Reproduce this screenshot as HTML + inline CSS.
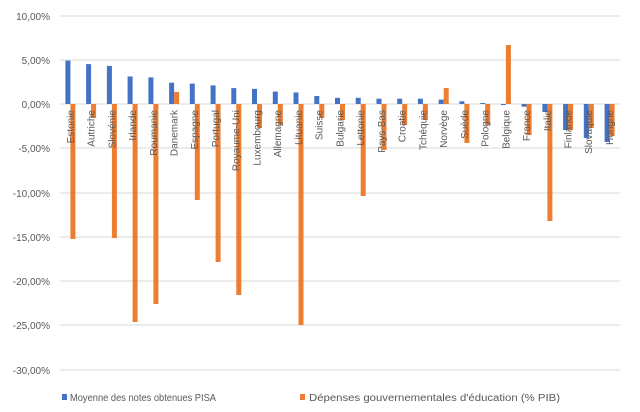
<!DOCTYPE html>
<html><head><meta charset="utf-8"><style>
body{margin:0;background:#fff;}
svg{display:block;font-family:"Liberation Sans",sans-serif;}
.y{font-size:10px;fill:#595959;text-anchor:end;}
.c{font-size:10px;fill:#595959;text-anchor:end;}
.l{font-size:10px;fill:#595959;}
</style></head><body>
<svg width="640" height="412" viewBox="0 0 640 412">
<g stroke="#d9d9d9" stroke-width="1">
<line x1="60" x2="620" y1="16" y2="16"/><line x1="60" x2="620" y1="60" y2="60"/><line x1="60" x2="620" y1="104" y2="104"/><line x1="60" x2="620" y1="148" y2="148"/><line x1="60" x2="620" y1="193" y2="193"/><line x1="60" x2="620" y1="237" y2="237"/><line x1="60" x2="620" y1="281" y2="281"/><line x1="60" x2="620" y1="325" y2="325"/><line x1="60" x2="620" y1="370" y2="370"/>
</g>
<g class="y">
<text x="50" y="20">10,00%</text><text x="50" y="64">5,00%</text><text x="50" y="108">0,00%</text><text x="50" y="152">-5,00%</text><text x="50" y="197">-10,00%</text><text x="50" y="241">-15,00%</text><text x="50" y="285">-20,00%</text><text x="50" y="329">-25,00%</text><text x="50" y="374">-30,00%</text>
</g>
<g fill="#4472c4">
<rect x="65.4" y="60.6" width="5" height="43.4"/>
<rect x="86.1" y="64.1" width="5" height="39.9"/>
<rect x="106.9" y="65.9" width="5" height="38.1"/>
<rect x="127.6" y="76.5" width="5" height="27.5"/>
<rect x="148.4" y="77.4" width="5" height="26.6"/>
<rect x="169.1" y="82.7" width="5" height="21.3"/>
<rect x="189.8" y="83.6" width="5" height="20.4"/>
<rect x="210.6" y="85.4" width="5" height="18.6"/>
<rect x="231.3" y="88.1" width="5" height="15.9"/>
<rect x="252" y="88.9" width="5" height="15.1"/>
<rect x="272.8" y="91.6" width="5" height="12.4"/>
<rect x="293.5" y="92.5" width="5" height="11.5"/>
<rect x="314.3" y="96" width="5" height="8"/>
<rect x="335" y="97.8" width="5" height="6.2"/>
<rect x="355.7" y="97.8" width="5" height="6.2"/>
<rect x="376.5" y="98.7" width="5" height="5.3"/>
<rect x="397.2" y="98.7" width="5" height="5.3"/>
<rect x="417.9" y="98.7" width="5" height="5.3"/>
<rect x="438.7" y="99.6" width="5" height="4.4"/>
<rect x="459.4" y="101.3" width="5" height="2.7"/>
<rect x="480.2" y="103" width="5" height="1"/>
<rect x="500.9" y="104" width="5" height="1"/>
<rect x="521.6" y="104" width="5" height="2.7"/>
<rect x="542.4" y="104" width="5" height="8"/>
<rect x="563.1" y="104" width="5" height="26"/>
<rect x="583.8" y="104" width="5" height="34"/>
<rect x="604.6" y="104" width="5" height="38"/>
</g>
<g fill="#ed7d31">
<rect x="70.4" y="104" width="5" height="135"/>
<rect x="91.1" y="104" width="5" height="14"/>
<rect x="111.9" y="104" width="5" height="134"/>
<rect x="132.6" y="104" width="5" height="218"/>
<rect x="153.4" y="104" width="5" height="200"/>
<rect x="174.1" y="92" width="5" height="12"/>
<rect x="194.8" y="104" width="5" height="96"/>
<rect x="215.6" y="104" width="5" height="158"/>
<rect x="236.3" y="104" width="5" height="191"/>
<rect x="257" y="104" width="5" height="24"/>
<rect x="277.8" y="104" width="5" height="21"/>
<rect x="298.5" y="104" width="5" height="221"/>
<rect x="319.3" y="104" width="5" height="14"/>
<rect x="340" y="104" width="5" height="16"/>
<rect x="360.7" y="104" width="5" height="92"/>
<rect x="381.5" y="104" width="5" height="46"/>
<rect x="402.2" y="104" width="5" height="21"/>
<rect x="422.9" y="104" width="5" height="16"/>
<rect x="443.7" y="88" width="5" height="16"/>
<rect x="464.4" y="104" width="5" height="39"/>
<rect x="485.2" y="104" width="5" height="21"/>
<rect x="505.9" y="45" width="5" height="59"/>
<rect x="526.6" y="104" width="5" height="31"/>
<rect x="547.4" y="104" width="5" height="117"/>
<rect x="568.1" y="104" width="5" height="26"/>
<rect x="588.8" y="104" width="5" height="24"/>
<rect x="609.6" y="104" width="5" height="32"/>
</g>
<g class="c">
<text transform="translate(74,110) rotate(-90)">Estonie</text>
<text transform="translate(94.5,110) rotate(-90)">Autriche</text>
<text transform="translate(115.3,110) rotate(-90)">Slovénie</text>
<text transform="translate(136,110) rotate(-90)">Irlande</text>
<text transform="translate(156.8,110) rotate(-90)">Roumanie</text>
<text transform="translate(177.5,110) rotate(-90)">Danemark</text>
<text transform="translate(198.2,110) rotate(-90)">Espagne</text>
<text transform="translate(219,110) rotate(-90)">Portugal</text>
<text transform="translate(239.7,110) rotate(-90)">Royaume-Uni</text>
<text transform="translate(260.4,110) rotate(-90)">Luxembourg</text>
<text transform="translate(281.2,110) rotate(-90)">Allemagne</text>
<text transform="translate(301.9,110) rotate(-90)">Lituanie</text>
<text transform="translate(322.7,110) rotate(-90)">Suisse</text>
<text transform="translate(343.4,110) rotate(-90)">Bulgarie</text>
<text transform="translate(364.1,110) rotate(-90)">Lettonie</text>
<text transform="translate(384.9,110) rotate(-90)">Pays-Bas</text>
<text transform="translate(405.6,110) rotate(-90)">Croatie</text>
<text transform="translate(426.3,110) rotate(-90)">Tchéquie</text>
<text transform="translate(447.1,110) rotate(-90)">Norvège</text>
<text transform="translate(467.8,110) rotate(-90)">Suède</text>
<text transform="translate(488.6,110) rotate(-90)">Pologne</text>
<text transform="translate(509.3,110) rotate(-90)">Belgique</text>
<text transform="translate(530,110) rotate(-90)">France</text>
<text transform="translate(550.8,110) rotate(-90)">Italie</text>
<text transform="translate(571.5,110) rotate(-90)">Finlande</text>
<text transform="translate(592.2,110) rotate(-90)">Slovaquie</text>
<text transform="translate(613,110) rotate(-90)">Hongrie</text>
</g>
<rect x="62" y="394" width="5" height="6" fill="#4472c4"/>
<text class="l" x="70" y="401" textLength="146" lengthAdjust="spacingAndGlyphs">Moyenne des notes obtenues PISA</text>
<rect x="300" y="394" width="5" height="6" fill="#ed7d31"/>
<text class="l" x="309" y="401" textLength="251" lengthAdjust="spacingAndGlyphs">Dépenses gouvernementales d'éducation (% PIB)</text>
</svg>
</body></html>
